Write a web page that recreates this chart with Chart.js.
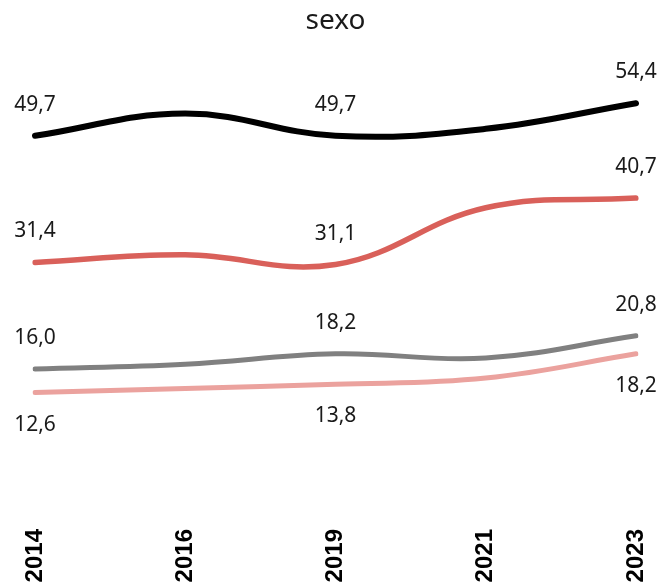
<!DOCTYPE html>
<html>
<head>
<meta charset="utf-8">
<script src="https://cdn.jsdelivr.net/npm/chart.js@4"></script>
<style>
  html, body { margin: 0; padding: 0; background: #ffffff; }
  #wrap { width: 669px; height: 585px; }
</style>
</head>
<body>
<div id="wrap"><canvas id="c" width="669" height="585"></canvas></div>
<script>
const categories = ['2014', '2016', '2019', '2021', '2023'];
const serieBlack = [49.7, 52.9, 49.7, 50.7, 54.4];
const serieRed   = [31.4, 32.5, 31.1, 39.3, 40.7];
const serieGray  = [16.0, 16.7, 18.2, 17.6, 20.8];
const seriePink  = [12.6, 13.2, 13.8, 14.7, 18.2];
const labeledIdx = [0, 2, 4];
const yMin = 0.7, yMax = 60.7;

const labelFont = '21px "Noto Sans", "DejaVu Sans", sans-serif';

const dataLabels = {
  id: 'dataLabels',
  afterDatasetsDraw(chart) {
    const ctx = chart.ctx;
    ctx.save();
    ctx.font = labelFont;
    ctx.fillStyle = '#1a1a1a';
    ctx.textAlign = 'center';
    ctx.textBaseline = 'middle';
    chart.data.datasets.forEach((ds, di) => {
      const meta = chart.getDatasetMeta(di);
      labeledIdx.forEach(i => {
        const pt = meta.data[i];
        const txt = ds.data[i].toFixed(1).replace('.', ',');
        const dy = ds.labelBelow ? 32 : -31;
        ctx.fillText(txt, pt.x, pt.y + dy);
      });
    });
    ctx.restore();
  }
};

new Chart(document.getElementById('c'), {
  type: 'line',
  data: {
    labels: categories,
    datasets: [
      { data: serieBlack, borderColor: '#000000', borderWidth: 6 },
      { data: serieRed,   borderColor: '#D9605A', borderWidth: 5.5 },
      { data: serieGray,  borderColor: '#808080', borderWidth: 5 },
      { data: seriePink,  borderColor: '#EBA29E', borderWidth: 5, labelBelow: true }
    ].map(d => Object.assign({
      fill: false,
      tension: 0.4,
      pointRadius: 0,
      pointHoverRadius: 0,
      borderCapStyle: 'round',
      borderJoinStyle: 'round'
    }, d))
  },
  options: {
    responsive: false,
    animation: false,
    events: [],
    layout: { padding: { left: 35, right: 33, top: 0, bottom: 3 } },
    plugins: {
      legend: { display: false },
      tooltip: { enabled: false },
      title: {
        display: true,
        text: 'sexo',
        color: '#1a1a1a',
        font: { family: '"Noto Sans", "DejaVu Sans", sans-serif', size: 28, weight: 'normal' },
        padding: { top: 4, bottom: 22 }
      }
    },
    scales: {
      x: {
        offset: false,
        grid: { display: false, drawTicks: false },
        border: { display: false },
        ticks: {
          color: '#000000',
          font: { family: '"Liberation Sans", Arial, sans-serif', size: 24, weight: 'bold' },
          minRotation: 90,
          maxRotation: 90,
          padding: 54,
          autoSkip: false
        },
        afterFit(scale) {
          scale.height = 107;
          scale.paddingLeft = 0;
          scale.paddingRight = 0;
        }
      },
      y: {
        display: false,
        min: yMin,
        max: yMax
      }
    }
  },
  plugins: [dataLabels]
});
</script>
</body>
</html>
